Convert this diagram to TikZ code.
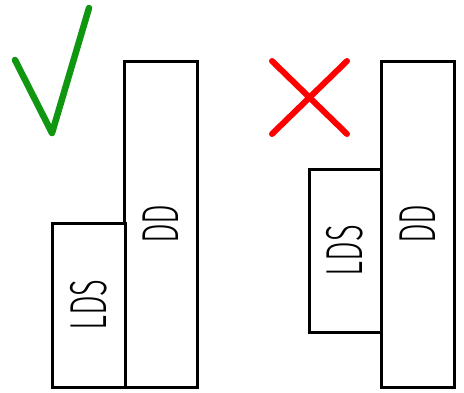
\documentclass[tikz,border=0pt]{standalone}
\usepackage{fontspec}
\usepackage{graphicx}
\usepackage{xcolor}
\usepackage{tikz}
\usetikzlibrary{positioning,calc}
\setmainfont{Fira Sans}[UprightFont=* Light]
\definecolor{okgreen}{RGB}{16,150,16}
\definecolor{badred}{RGB}{255,0,0}
\tikzset{
  layer/.style={draw=black,line width=3pt,fill=white,rotate=90,inner sep=0pt,
    font=\fontsize{52}{52}\selectfont},
  tick/.style={okgreen,line width=6.5pt,line cap=round,line join=round},
  cross/.style={badred,line width=6pt,line cap=round}
}
\newcommand{\lbl}[1]{\scalebox{0.6}[1]{#1}}

\begin{document}
\begin{tikzpicture}[x=1pt,y=-1pt]
        \useasboundingbox (0,0) rectangle (464,392);

        % good stack
        \node [layer,minimum width=326pt,minimum height=73pt] (ddgood) at (161,224) {\lbl{DD}};
        \node [layer,minimum width=164pt,minimum height=73pt] (ldsgood) at (88.5,305) {\lbl{LDS}};
        \draw [tick] (15,60) -- (52,133) -- (89,8);

        % bad stack
        \node [layer,minimum width=326pt,minimum height=73pt] (ddbad) at (417.5,224) {\lbl{DD}};
        \node [layer,minimum width=163pt,minimum height=72pt] (ldsbad) at (345,250.5) {\lbl{LDS}};
        \draw [cross] (272,61) -- (347,134);
        \draw [cross] (347,61) -- (272,134);
      \end{tikzpicture}
\end{document}
